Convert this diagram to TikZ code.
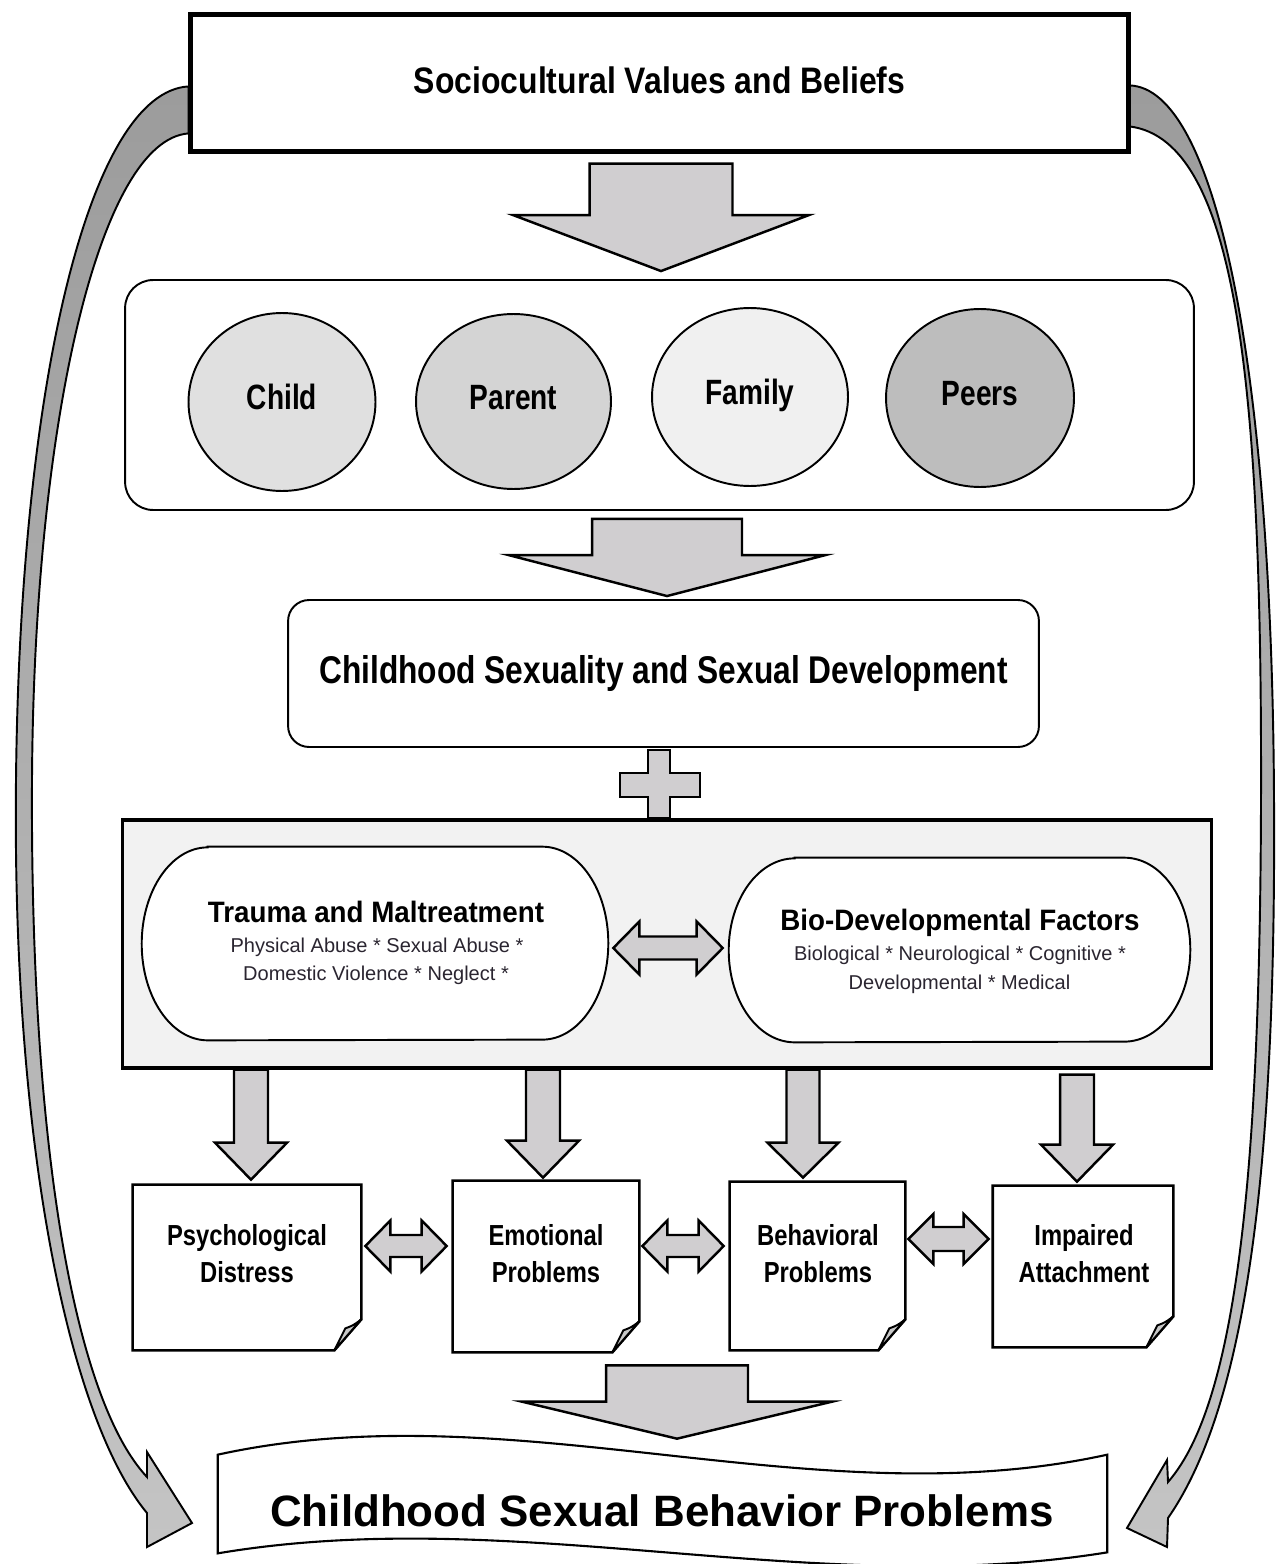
\documentclass[tikz,border=0pt]{standalone}
\usepackage{fontspec}
\setmainfont{Liberation Sans}
\newfontfamily\fTitle[FakeStretch=0.865]{Liberation Sans}
\newfontfamily\fCirc[FakeStretch=0.80]{Liberation Sans}
\newfontfamily\fDev[FakeStretch=0.82]{Liberation Sans}
\newfontfamily\fPill[FakeStretch=0.94]{Liberation Sans}
\newfontfamily\fDoc[FakeStretch=0.82]{Liberation Sans}
\usetikzlibrary{shapes.geometric,calc}
\definecolor{arrowgray}{HTML}{D0CED0}
\definecolor{sidetop}{HTML}{9C9C9C}
\definecolor{sidebot}{HTML}{C4C4C4}
\definecolor{cChild}{HTML}{E0E0E0}
\definecolor{cParent}{HTML}{D4D4D4}
\definecolor{cFamily}{HTML}{F0F0F0}
\definecolor{cPeers}{HTML}{BDBDBD}
\definecolor{panel}{HTML}{F2F2F2}
\definecolor{flapgray}{HTML}{C8C8C8}
\definecolor{subtext}{HTML}{2A2530}
\def\PX{0.569055pt}
% block arrow pointing down: #1 start (y used), #2 tip, #3 shaft half width, #4 head half width, #5 head length (px)
\newcommand\blkdown[5]{%
  \draw[blk] let \p1=#1, \p2=#2 in
   (\x2-#3*\PX,\y1) -- (\x2+#3*\PX,\y1) -- (\x2+#3*\PX,\y2+#5*\PX) -- (\x2+#4*\PX,\y2+#5*\PX)
   -- (\x2,\y2) -- (\x2-#4*\PX,\y2+#5*\PX) -- (\x2-#3*\PX,\y2+#5*\PX) -- cycle;}
% double block arrow: #1 left tip, #2 right tip (x used), #3 shaft hw, #4 head hw, #5 head length
\newcommand\blkdbl[5]{%
  \draw[blk] let \p1=#1, \p2=#2 in
   (\x1,\y1) -- (\x1+#5*\PX,\y1+#4*\PX) -- (\x1+#5*\PX,\y1+#3*\PX) -- (\x2-#5*\PX,\y1+#3*\PX)
   -- (\x2-#5*\PX,\y1+#4*\PX) -- (\x2,\y1) -- (\x2-#5*\PX,\y1-#4*\PX) -- (\x2-#5*\PX,\y1-#3*\PX)
   -- (\x1+#5*\PX,\y1-#3*\PX) -- (\x1+#5*\PX,\y1-#4*\PX) -- cycle;}
% document shape with folded corner
\newcommand\docshape[1]{%
  \draw[docline] (#1.north west) -- (#1.north east) -- ($(#1.south east)+(0,-31)$)
    -- ($(#1.south east)+(-27,0)$) -- (#1.south west) -- cycle;
  \draw[flap] ($(#1.south east)+(0,-31)$) .. controls ($(#1.south east)+(-8,-25)$) .. ($(#1.south east)+(-16,-22)$)
    -- ($(#1.south east)+(-27,0)$) -- cycle;}
% pill with elliptical ends
\newcommand\pillshape[3]{%
  \draw[pill] ($(#1.north west)+(66,0)$) -- ($(#1.north east)+(-66,0)$)
    arc[start angle=90,end angle=-90,x radius=1.32cm,y radius=#2]
    -- ($(#1.south west)+(66,0)$)
    arc[start angle=270,end angle=90,x radius=1.32cm,y radius=#2] -- cycle;}
\tikzset{
  box/.style={draw, line width=1.8pt, fill=white, inner sep=0pt},
  grp/.style={draw, line width=1.1pt, rounded corners=0.56cm, fill=white, inner sep=0pt},
  devbox/.style={draw, line width=1.1pt, rounded corners=0.42cm, fill=white, inner sep=0pt,
    font={\fDev\bfseries\fontsize{22pt}{26pt}\selectfont}},
  circ/.style={ellipse, draw, line width=1.1pt, inner sep=0pt, text height=14pt, text depth=5.2pt,
    font={\fCirc\bfseries\fontsize{20pt}{24pt}\selectfont}},
  blk/.style={draw, line width=1.4pt, fill=arrowgray, line join=miter},
  sidearrow/.style={draw, line width=1.1pt, top color=sidetop, bottom color=sidebot},
  panelbox/.style={draw, line width=1.8pt, fill=panel, inner sep=0pt},
  slot/.style={draw=none, inner sep=0pt},
  pill/.style={draw, line width=1.1pt, fill=white},
  pilltitle/.style={anchor=base, inner sep=0pt, font={\fPill\bfseries\fontsize{16.8pt}{20pt}\selectfont}},
  pillsub/.style={anchor=base, inner sep=0pt, text=subtext, font={\fontsize{11.4pt}{14pt}\selectfont}},
  docline/.style={draw, line width=1.5pt, fill=white, line join=miter},
  flap/.style={draw, line width=1.1pt, fill=flapgray, line join=round},
  doctext/.style={align=center, inner sep=0pt, font={\fDoc\bfseries\fontsize{16.5pt}{21pt}\selectfont}},
  wave/.style={draw, line width=1.2pt, fill=white},
  plusshape/.style={draw, line width=1.6pt, fill=arrowgray, line join=miter}
}
\begin{document}
\begin{tikzpicture}[x=0.02cm,y=-0.02cm]
\useasboundingbox[fill=white] (0,0) rectangle (1279,1564);

% top box
\node[box, minimum width=18.74cm, minimum height=2.72cm, text depth=3.4pt,
  font={\fTitle\bfseries\fontsize{21pt}{25pt}\selectfont}] (top) at (659.5,83) {Sociocultural Values and Beliefs};

% curved side arrows
\path[sidearrow] ($(top.north west)+(-1,73)$) .. controls (90,92) and (20,380) .. (16,780)
  .. controls (12,1150) and (70,1420) .. (147,1513)
  -- (147,1547) -- (192,1523) -- (147,1452) -- (147,1477)
  .. controls (75,1400) and (30,1150) .. (32,780)
  .. controls (34,420) and (100,140) .. ($(top.north west)+(-1,120)$) -- cycle;
\path[sidearrow] ($(top.north east)+(0,72)$) .. controls (1215,88) and (1272,360) .. (1274,800)
  .. controls (1276,1150) and (1250,1400) .. (1168,1518)
  -- (1167,1547) -- (1127,1528) -- (1167,1460) -- (1168,1482)
  .. controls (1240,1400) and (1260,1150) .. (1261,800)
  .. controls (1262,400) and (1240,140) .. ($(top.north east)+(0,113)$) -- cycle;
\draw[line width=1.8pt] (top.north west) rectangle (top.south east);

% group of circles
\node[grp, minimum width=21.38cm, minimum height=4.6cm] (group) at (659.5,395) {};
\node[circ, fill=cChild,  minimum width=3.74cm, minimum height=3.56cm] (child)  at (282,402)   {Child};
\node[circ, fill=cParent, minimum width=3.90cm, minimum height=3.50cm] (parent) at (513.5,401.5) {Parent};
\node[circ, fill=cFamily, minimum width=3.92cm, minimum height=3.56cm] (family) at (750,397)   {Family};
\node[circ, fill=cPeers,  minimum width=3.76cm, minimum height=3.56cm] (peers)  at (980,398)   {Peers};

\blkdown{($(top.south)+(0,11)$)}{($(group.north)+(1.5,-8)$)}{71.5}{148}{56}

% development box
\node[devbox, minimum width=15.02cm, minimum height=2.94cm] (dev) at (663.5,673.5) {Childhood Sexuality and Sexual Development};
\blkdown{($(group.south)+(0,8)$)}{($(dev.north)+(3.5,-3)$)}{75}{158.5}{41}

% plus sign
\draw[plusshape] (648,750) -- (670,750) -- (670,773) -- (700,773) -- (700,797) -- (670,797)
  -- (670,818) -- (648,818) -- (648,797) -- (620,797) -- (620,773) -- (648,773) -- cycle;

% grey panel with two pills
\node[panelbox, minimum width=21.8cm, minimum height=4.96cm] (gray) at (667,944) {};
\node[slot, minimum width=9.32cm, minimum height=3.86cm] (trauma) at (375,943.5) {};
\pillshape{trauma}{1.93cm}{}
\node[slot, minimum width=9.22cm, minimum height=3.68cm] (bio) at (959.5,950) {};
\pillshape{bio}{1.84cm}{}
\node[pilltitle] (trT1) at (376,922) {Trauma and Maltreatment};
\node[pillsub] (trT2) at (377,952) {Physical Abuse * Sexual Abuse *};
\node[pillsub] (trT3) at (376,980) {Domestic Violence * Neglect *};
\node[pilltitle] (bioT1) at (960,930) {Bio-Developmental Factors};
\node[pillsub] (bioT2) at (960,960) {Biological * Neurological * Cognitive *};
\node[pillsub] (bioT3) at (959.5,989) {Developmental * Medical};
\blkdbl{($(trauma.east)+(5,4.5)$)}{($(bio.west)+(-6,-2)$)}{11.5}{26.5}{26}

% document boxes
\node[slot, minimum width=4.56cm, minimum height=3.30cm] (psych) at (247,1267.5) {};
\node[slot, minimum width=3.72cm, minimum height=3.42cm] (emot)  at (546,1266.5) {};
\node[slot, minimum width=3.50cm, minimum height=3.36cm] (behav) at (817.5,1266) {};
\node[slot, minimum width=3.60cm, minimum height=3.22cm] (imp)   at (1083,1266.5) {};
\docshape{psych}
\docshape{emot}
\docshape{behav}
\docshape{imp}
\node[doctext] (psychT) at (247,1254) {Psychological\\Distress};
\node[doctext] (emotT)  at (546,1254) {Emotional\\Problems};
\node[doctext] (behavT) at (818,1254) {Behavioral\\Problems};
\node[doctext] (impT)   at (1084,1254) {Impaired\\Attachment};

\blkdown{(gray.south)}{($(psych.north)+(4,-5)$)}{17}{36}{37}
\blkdown{(gray.south)}{($(emot.north)+(-3,-3)$)}{17}{36}{37}
\blkdown{(gray.south)}{($(behav.north)+(-14.5,-4)$)}{16.5}{35.5}{35}
\blkdown{($(gray.south)+(0,5)$)}{($(imp.north)+(-6,-4)$)}{17}{36}{37}

\blkdbl{($(psych.east)+(4,-21.5)$)}{($(emot.west)+(-6,0)$)}{11}{25.5}{25}
\blkdbl{($(emot.east)+(3,-20.5)$)}{($(behav.west)+(-6,0)$)}{11}{25.5}{25}
\blkdbl{($(behav.east)+(3,-27)$)}{($(imp.west)+(-4,0)$)}{12}{25}{25}

% outcome box
\node[slot, minimum width=17.78cm, minimum height=1.96cm] (outcome) at (662.5,1504) {};
\draw[wave] (outcome.north west) .. controls ($(outcome.north west)+(296,-65)$) and ($(outcome.north east)+(-296,65)$) .. (outcome.north east)
  -- ($(outcome.south east)+(0,-1)$) .. controls ($(outcome.south east)+(-296,47)$) and ($(outcome.south west)+(296,-50)$) .. (outcome.south west) -- cycle;
\node[inner sep=0pt, font={\bfseries\fontsize{25pt}{30pt}\selectfont}] (outcomeT) at (662,1511) {Childhood Sexual Behavior Problems};
\blkdown{($(emot.south)+(0,13)$)}{($(outcome.north)+(14.5,-16)$)}{71}{155}{37}
\end{tikzpicture}
\end{document}
